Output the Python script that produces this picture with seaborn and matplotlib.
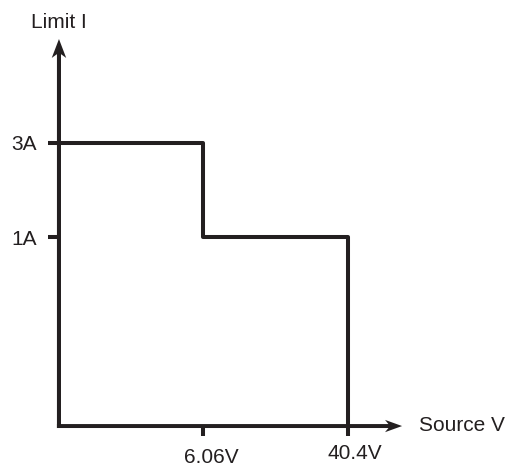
import matplotlib
matplotlib.use("Agg")
import matplotlib.pyplot as plt
import seaborn as sns
import pandas as pd

# values
voltages = [6.06, 40.4]          # source voltage breakpoints
currents = [3, 1]                # current limit for each region
x_title = "Source V"
y_title = "Limit I"

# schematic (not to scale) positions of the breakpoints
x_levels = [1, 2]
y_levels = [3, 2]

sns.set_theme(style="white")
plt.rcParams['font.family'] = ['Liberation Sans', 'DejaVu Sans']

ink = "#231f20"
lw = 2.9
fs = 15

fig = plt.figure(figsize=(5.06, 4.68), dpi=100)
ax = fig.add_axes([0, 0, 1, 1])

steps = pd.DataFrame({
    "x": [0] + x_levels,
    "y": y_levels + [0],
})
sns.lineplot(data=steps, x="x", y="y", drawstyle="steps-post",
             color=ink, lw=lw, ax=ax, solid_capstyle="projecting")

ax.set_xlim(-0.408, 3.093)
ax.set_ylim(-0.444, 4.508)

# axes drawn as stealth arrows
ax.arrow(0, -0.02, 0, 4.115, width=0.028, head_width=0.1, head_length=0.2,
         overhang=0.2, length_includes_head=True, color=ink, lw=0)
ax.arrow(-0.014, 0, 2.388, 0, width=0.042, head_width=0.13, head_length=0.118,
         overhang=0.2, length_includes_head=True, color=ink, lw=0)

for s in ax.spines.values():
    s.set_visible(False)
ax.spines['left'].set_position(('data', 0))
ax.spines['bottom'].set_position(('data', 0))

ax.set_yticks(y_levels)
ax.set_yticklabels([f"{c}A" for c in currents], fontsize=fs, color=ink)
ax.tick_params(axis="y", left=True, direction="out", length=8, width=lw,
               color=ink, pad=8)
ax.set_xticks(x_levels)
ax.set_xticklabels([])
ax.tick_params(axis="x", bottom=True, direction="out", length=7.5, width=lw,
               color=ink)

# staggered voltage labels
label_y = [-0.392, -0.35]
label_dx = [0.052, 0.045]
for xl, v, ly, dx in zip(x_levels, voltages, label_y, label_dx):
    ax.text(xl + dx, ly, f"{v}V", ha="center", va="baseline", fontsize=fs, color=ink)

ax.text(0.0, 4.21, y_title, ha="center", va="baseline", fontsize=fs, color=ink)
ax.text(2.491, -0.053, x_title, ha="left", va="baseline", fontsize=fs, color=ink)

ax.set_xlabel("")
ax.set_ylabel("")
ax.grid(False)

fig.savefig("out.png", dpi=100)
